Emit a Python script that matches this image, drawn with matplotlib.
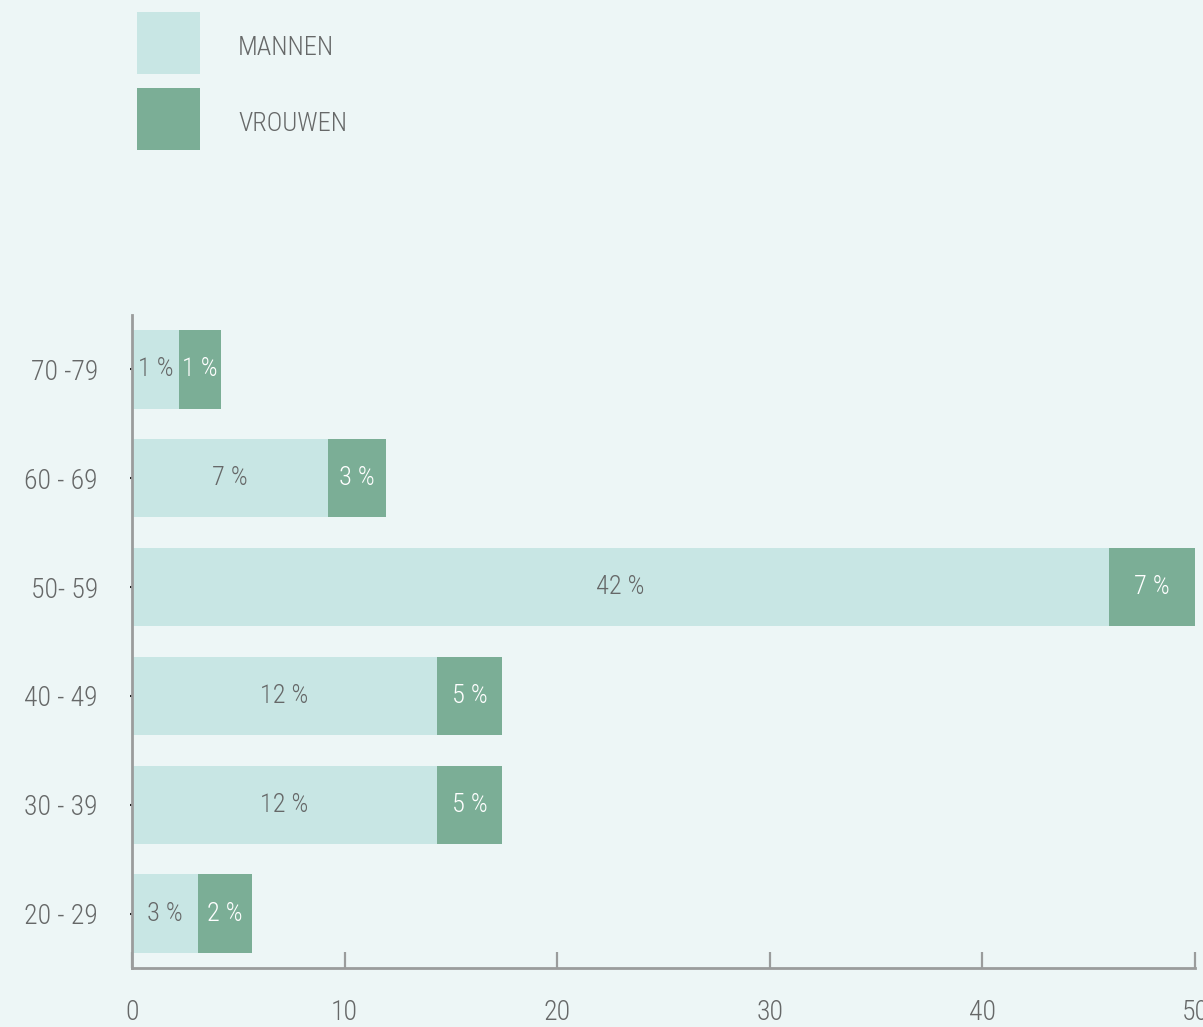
import matplotlib
matplotlib.use("Agg")
import matplotlib.pyplot as plt
from matplotlib.patches import Rectangle
from matplotlib import font_manager

# ---- data ----
categories = ["20 - 29", "30 - 39", "40 - 49", "50- 59", "60 - 69", "70 -79"]
mannen = [3.10, 14.35, 14.35, 45.95, 9.22, 2.21]
vrouwen = [2.54, 3.05, 3.05, 4.05, 2.73, 1.98]
mannen_labels = ["3 %", "12 %", "12 %", "42 %", "7 %", "1 %"]
vrouwen_labels = ["2 %", "5 %", "5 %", "7 %", "3 %", "1 %"]
series_names = ["MANNEN", "VROUWEN"]
x_ticks = [0, 10, 20, 30, 40, 50]

# ---- style ----
avail = {f.name for f in font_manager.fontManager.ttflist}
fam = [f for f in ["Roboto Condensed", "Liberation Sans Narrow", "DejaVu Sans"] if f in avail]
plt.rcParams["font.family"] = fam
plt.rcParams["font.weight"] = "light"

BG = "#EDF6F6"
C_M = "#C8E6E4"
C_V = "#7BAE96"
TXT = "#666868"
SPINE = "#9A9C9C"
FS = 20

W, H = 1203, 1027
fig = plt.figure(figsize=(W / 100, H / 100), dpi=100, facecolor=BG)
ax = fig.add_axes([132 / W, 1 - 968 / H, (1195 - 132) / W, (968 - 315) / H])
ax.set_facecolor(BG)

y = list(range(len(categories)))
ax.barh(y, mannen, height=0.72, color=C_M, linewidth=0)
ax.barh(y, vrouwen, left=mannen, height=0.72, color=C_V, linewidth=0)

for i in y:
    ax.text(mannen[i] / 2, i, mannen_labels[i], ha="center", va="center",
            fontsize=FS - 1, color=TXT)
    ax.text(mannen[i] + vrouwen[i] / 2, i, vrouwen_labels[i], ha="center", va="center",
            fontsize=FS - 1, color="white")

ax.set_xlim(0, 50)
ax.set_ylim(-0.5, 5.5)
ax.set_xticks(x_ticks)
ax.set_xticklabels([str(t) for t in x_ticks])
ax.set_yticks(y)
ax.set_yticklabels(categories)

for s in ["top", "right"]:
    ax.spines[s].set_visible(False)
for s in ["left", "bottom"]:
    ax.spines[s].set_color(SPINE)
    ax.spines[s].set_linewidth(2)

ax.tick_params(axis="x", direction="in", length=11.5, width=1.6, color=SPINE,
               labelsize=FS, labelcolor=TXT, pad=22)
ax.tick_params(axis="y", direction="out", length=1.5, width=1.5, color="#222222",
               labelsize=FS, labelcolor=TXT, pad=23)

# ---- legend (manual) ----
colors = [C_M, C_V]
tops = [12, 88]
for name, c, t in zip(series_names, colors, tops):
    fig.patches.append(Rectangle((137 / W, 1 - (t + 62) / H), 63 / W, 62 / H,
                                 transform=fig.transFigure, facecolor=c,
                                 edgecolor="none"))
    fig.text(238 / W, 1 - (t + 36) / H, name, ha="left", va="center",
             fontsize=FS - 1, color=TXT)

fig.savefig("out.png", dpi=100, facecolor=BG)
